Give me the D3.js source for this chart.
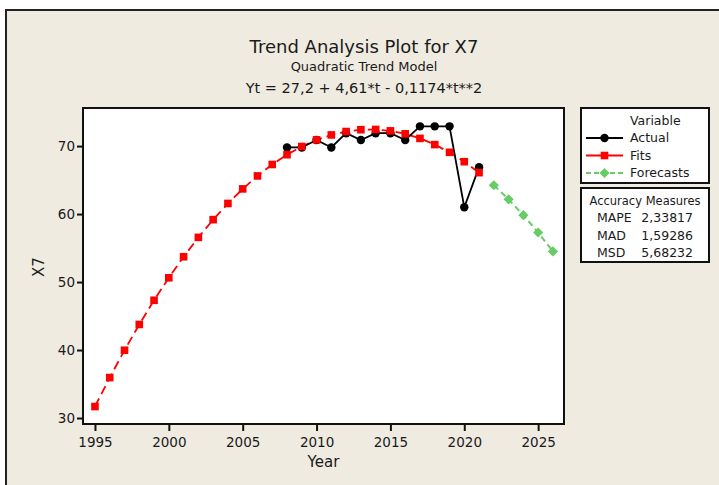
<!doctype html>
<html>
<head>
<meta charset="utf-8"/>
<title>Trend Analysis Plot for X7</title>
<script src="https://d3js.org/d3.v7.min.js"></script>
<style>
body{margin:0;background:#fff;}
text{font-family:"DejaVu Sans",Verdana,sans-serif;fill:#1a1a1a;}
</style>
</head>
<body>
<script>
// data
var fitYears = [1995,1996,1997,1998,1999,2000,2001,2002,2003,2004,2005,2006,2007,2008,2009,2010,2011,2012,2013,2014,2015,2016,2017,2018,2019,2020,2021];
var fits = [31.69,35.95,39.97,43.76,47.32,50.63,53.72,56.57,59.18,61.56,63.70,65.61,67.29,68.73,69.94,70.91,71.64,72.14,72.41,72.44,72.24,71.80,71.13,70.22,69.08,67.70,66.09];
var actualYears = [2008,2009,2010,2011,2012,2013,2014,2015,2016,2017,2018,2019,2020,2021];
var actual = [69.8,69.8,70.9,69.8,71.9,70.9,71.9,71.9,70.9,72.9,72.9,72.9,61.0,66.9];
var forecastYears = [2022,2023,2024,2025,2026];
var forecasts = [64.24,62.16,59.84,57.29,54.50];
var xTicks = [1995,2000,2005,2010,2015,2020,2025];
var yTicks = [30,40,50,60,70];
var legendNames = ["Actual","Fits","Forecasts"];
var measureNames = ["MAPE","MAD","MSD"];
var measureValues = ["2,33817","1,59286","5,68232"];

var W = 719, H = 485;
var svg = d3.select("body").append("svg").attr("width", W).attr("height", H);

// outer panel
svg.append("rect").attr("x",6).attr("y",10).attr("width",W+10).attr("height",H+10)
  .attr("fill","#efebe1").attr("stroke","#222").attr("stroke-width",2);

var pL = 83, pR = 564, pT = 108, pB = 424;
var x = d3.scaleLinear().domain([1994.19, 2026.75]).range([pL, pR]);
var y = d3.scaleLinear().domain([29.12, 75.6]).range([pB, pT]);

svg.append("rect").attr("x",pL).attr("y",pT).attr("width",pR-pL).attr("height",pB-pT)
  .attr("fill","#fff").attr("stroke","#111").attr("stroke-width",2);

// axes
var xAxis = svg.append("g").attr("transform","translate(0,"+pB+")")
  .call(d3.axisBottom(x).tickValues(xTicks).tickFormat(d3.format("d")).tickSize(7).tickSizeOuter(0));
var yAxis = svg.append("g").attr("transform","translate("+pL+",0)")
  .call(d3.axisLeft(y).tickValues(yTicks).tickSize(6).tickSizeOuter(0));
[xAxis,yAxis].forEach(function(a){
  a.select(".domain").remove();
  a.selectAll("line").attr("stroke","#111").attr("stroke-width",2);
  a.selectAll("text").attr("font-size",13.5).attr("fill","#1a1a1a")
   .attr("font-family","DejaVu Sans, sans-serif");
});
xAxis.selectAll("text").attr("dy",null).attr("y",23);
yAxis.selectAll("text").attr("dy","0.36em").attr("x",-8);

svg.append("text").attr("x",(pL+pR)/2).attr("y",467).attr("text-anchor","middle")
  .attr("font-size",15).text("Year");
svg.append("text").attr("transform","translate(44,267) rotate(-90)").attr("text-anchor","middle")
  .attr("font-size",15).text("X7");

// titles
svg.append("text").attr("x",364).attr("y",53).attr("text-anchor","middle").attr("font-size",18).text("Trend Analysis Plot for X7");
svg.append("text").attr("x",364).attr("y",71).attr("text-anchor","middle").attr("font-size",13).text("Quadratic Trend Model");
svg.append("text").attr("x",364).attr("y",93).attr("text-anchor","middle").attr("font-size",14.5).text("Yt = 27,2 + 4,61*t - 0,1174*t**2");

var line = d3.line().x(function(d){return x(d[0]);}).y(function(d){return y(d[1]);});
var fitPts = fitYears.map(function(d,i){return [d,fits[i]];});
var actPts = actualYears.map(function(d,i){return [d,actual[i]];});
var fcPts = forecastYears.map(function(d,i){return [d,forecasts[i]];});

var red = "#ff0000", green = "#66cc66";

// fits
svg.append("path").datum(fitPts).attr("d",line).attr("fill","none").attr("stroke",red)
  .attr("stroke-width",1.8).attr("stroke-dasharray","9,5");
// actual
svg.append("path").datum(actPts).attr("d",line).attr("fill","none").attr("stroke","#000").attr("stroke-width",1.8);
// forecasts
svg.append("path").datum(fcPts).attr("d",line).attr("fill","none").attr("stroke",green)
  .attr("stroke-width",2).attr("stroke-dasharray","6,4");

var sq = d3.symbol().type(d3.symbolSquare).size(58);
var ci = d3.symbol().type(d3.symbolCircle).size(56);
var di = d3.symbol().type(d3.symbolSquare).size(52); // rotated 45deg below

svg.selectAll(".act").data(actPts).enter().append("path")
  .attr("d",ci).attr("transform",function(d){return "translate("+x(d[0])+","+y(d[1])+")";}).attr("fill","#000");
svg.selectAll(".fit").data(fitPts).enter().append("path")
  .attr("d",sq).attr("transform",function(d){return "translate("+x(d[0])+","+y(d[1])+")";}).attr("fill",red);
svg.selectAll(".fc").data(fcPts).enter().append("path")
  .attr("d",di).attr("transform",function(d){return "translate("+x(d[0])+","+y(d[1])+") rotate(45)";}).attr("fill",green);

// legend
var lg = svg.append("g");
lg.append("rect").attr("x",581).attr("y",108).attr("width",128).attr("height",75)
  .attr("fill","#fff").attr("stroke","#111").attr("stroke-width",2);
lg.append("text").attr("x",630).attr("y",125).attr("font-size",12.5).text("Variable");
var legStyles = [
  {stroke:"#000",dash:null,sym:ci,fill:"#000",rot:0},
  {stroke:red,dash:null,sym:sq,fill:red,rot:0},
  {stroke:green,dash:"5,3",sym:di,fill:green,rot:45}
];
legendNames.forEach(function(n,i){
  var yy = 142 + i*17.5;
  var s = legStyles[i];
  lg.append("line").attr("x1",586).attr("x2",623).attr("y1",yy-4).attr("y2",yy-4)
    .attr("stroke",s.stroke).attr("stroke-width",2).attr("stroke-dasharray",s.dash);
  lg.append("path").attr("d",s.sym).attr("transform","translate(604.5,"+(yy-4)+") rotate("+s.rot+")").attr("fill",s.fill);
  lg.append("text").attr("x",630).attr("y",yy).attr("font-size",12.5).text(n);
});

// accuracy box
var ac = svg.append("g");
ac.append("rect").attr("x",581).attr("y",188).attr("width",128).attr("height",74)
  .attr("fill","#fff").attr("stroke","#111").attr("stroke-width",2);
ac.append("text").attr("x",645).attr("y",205).attr("text-anchor","middle").attr("font-size",11.5).text("Accuracy  Measures");
measureNames.forEach(function(n,i){
  var yy = 222 + i*17.5;
  ac.append("text").attr("x",597).attr("y",yy).attr("font-size",12.5).text(n);
  ac.append("text").attr("x",693).attr("y",yy).attr("text-anchor","end").attr("font-size",12.5).text(measureValues[i]);
});
</script>
</body>
</html>
